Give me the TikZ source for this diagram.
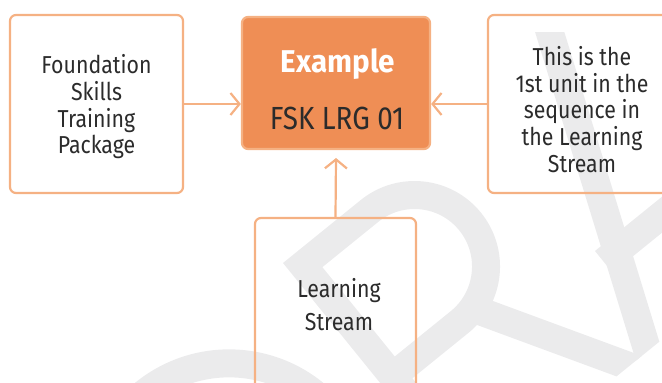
\documentclass[tikz,border=0pt]{standalone}
\usepackage{fontspec}
\setmainfont{Fira Sans}[FakeStretch=0.87]
\newfontfamily\exfont{Fira Sans Bold}[FakeStretch=0.94]
\usetikzlibrary{arrows.meta}
\definecolor{wm}{HTML}{EBEBEC}
\definecolor{edge}{HTML}{F5B183}
\definecolor{ofill}{HTML}{EF8E55}
\definecolor{ink}{HTML}{2B2B2B}
\tikzset{
  card/.style={draw=edge, line width=2.2pt, rounded corners=6pt, inner sep=0pt},
  lbl/.style={text=ink, align=center, inner sep=0pt, font=\fontsize{24.5}{26.7}\selectfont},
  conn/.style={draw=edge, line width=2.2pt, -{Straight Barb[length=9pt,width=22pt]}},
  wmstroke/.style={draw=wm, line width=28pt},
}
\begin{document}
\begin{tikzpicture}[x=1pt,y=1pt]
\useasboundingbox (0,0) rectangle (662,383);
\clip (0,0) rectangle (662,383);
% watermark
\begin{scope}
  \clip (0,0) rectangle (662,350);
  \begin{scope}[shift={(283,120)},rotate=39]
    \clip (-500,-298) rectangle (700,60);
    \draw[wmstroke] (-400,-14) -- (-190,-14) arc[start angle=90,end angle=-90,radius=135] -- (-400,-284);
    \draw[wmstroke] (14,-320) -- (14,-14) -- (100,-14) arc[start angle=90,end angle=-90,radius=71.5] -- (14,-157);
    \draw[wmstroke] (119,-155) -- (216,-318);
    \draw[wmstroke] (221,-315) -- (358,25);
    \draw[wmstroke] (250,-201) -- (460,-201);
  \end{scope}
\end{scope}
% boxes
\node[card, fill=ofill, minimum width=188pt, minimum height=132pt] (ex) at (336,300) {};
\node[card, minimum width=173pt, minimum height=178pt] (lb) at (96.5,279) {};
\node[card, minimum width=188pt, minimum height=178pt] (rb) at (582,279) {};
\node[card, minimum width=161pt, minimum height=176pt] (bb) at (335.5,77) {};
% texts
\node[anchor=base, text=white, inner sep=0pt, font=\exfont\fontsize{31.5}{32}\selectfont] (ext) at (338,310) {Example};
\node[anchor=base, text=ink, inner sep=0pt, font=\fontsize{32}{34}\selectfont] (code) at (337,253) {FSK LRG 01};
\node[lbl] (lt) at (96.5,276) {Foundation\\Skills\\Training\\Package};
\node[lbl] (rt) at (582,273.6) {This is the\\1st unit in the\\sequence in\\the Learning\\Stream};
\node[lbl] (bt) at (339,78.3) {Learning\\[6pt]Stream};
% connectors
\coordinate (btip) at (336,225);
\draw[conn] (lb.east) -- (lb.east -| ex.west);
\draw[conn] (rb.west) -- (rb.west -| ex.east);
\draw[conn] (bb.north) -- (btip);
\end{tikzpicture}
\end{document}
